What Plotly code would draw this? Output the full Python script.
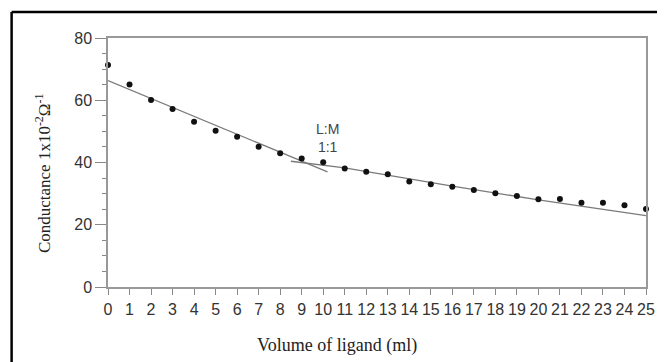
import plotly.graph_objects as go

volume = list(range(0, 26))
conductance = [71.3, 65.1, 60.1, 57.2, 53.1, 50.2, 48.3, 45.1, 43.0, 41.3, 40.1,
               38.1, 37.0, 36.2, 33.9, 33.0, 32.2, 31.2, 30.1, 29.2, 28.2, 28.3,
               27.1, 27.1, 26.3, 25.1]

fit1_x = [0, 10.2]
fit1_y = [66.3, 37.0]
fit2_x = [8.5, 11, 16, 20, 25]
fit2_y = [40.4, 38.3, 32.4, 28.0, 22.9]

x_ticks = list(range(0, 26))
y_ticks = [0, 20, 40, 60, 80]

OFF = 8  # page body margin
W, H = 665 - OFF, 362 - OFF
# screen positions of plot area: left 108, right 655, top 38, bottom 287
L = 108 - OFF
T = 38 - OFF
R = W - (655 - OFF)
B = H - (287 - OFF)
pw, ph = W - L - R, H - T - B

def px(xs):
    return (xs - OFF - L) / pw

def py(ys):
    return (H - B - (ys - OFF)) / ph

fig = go.Figure()
fig.add_trace(go.Scatter(x=fit1_x, y=fit1_y, mode="lines",
                         line=dict(color="#7a7a7a", width=1.3), cliponaxis=False))
fig.add_trace(go.Scatter(x=fit2_x, y=fit2_y, mode="lines",
                         line=dict(color="#7a7a7a", width=1.3), cliponaxis=False))
fig.add_trace(go.Scatter(x=volume, y=conductance, mode="markers",
                         marker=dict(color="#111111", size=6), cliponaxis=False))

axis_font = dict(family="Liberation Sans, Arial", size=16, color="#333333")

fig.update_layout(
    width=W, height=H,
    margin=dict(l=L, r=R, t=T, b=B),
    paper_bgcolor="white", plot_bgcolor="white",
    showlegend=False,
    xaxis=dict(range=[0, 25], tickvals=x_ticks, ticktext=[str(v) for v in x_ticks],
               ticks="outside", ticklen=6, tickcolor="#888888", tickwidth=1.2,
               showline=True, linecolor="#999999", linewidth=1.5, mirror=True,
               showgrid=False, zeroline=False, tickfont=axis_font, ticklabelstandoff=1,
               tickangle=0),
    yaxis=dict(range=[0, 80], tickvals=y_ticks,
               ticks="outside", ticklen=11, tickcolor="#888888", tickwidth=1.2,
               minor=dict(dtick=5, ticks="outside", ticklen=4, tickcolor="#888888", tickwidth=1),
               showline=True, linecolor="#999999", linewidth=1.5, mirror=True,
               showgrid=False, zeroline=False, tickfont=axis_font, ticklabelstandoff=0),
    annotations=[
        dict(x=10.19, y=47.9, xref="x", yref="y", text="L:M<br>1:1", showarrow=False,
             font=dict(family="Liberation Sans, Arial", size=14, color="#444444"),
             align="center", xanchor="center", yanchor="middle"),
        dict(x=px(341), y=py(345), xref="paper", yref="paper",
             text="Volume of ligand (ml)", showarrow=False,
             xanchor="center", yanchor="middle",
             font=dict(family="Liberation Serif, Times New Roman", size=18, color="#222222")),
        dict(x=px(42), y=py(173), xref="paper", yref="paper",
             text="Conductance 1x10<sup>-2</sup>Ω<sup>-1</sup>", showarrow=False, textangle=-90,
             xanchor="center", yanchor="middle",
             font=dict(family="Liberation Serif, Times New Roman", size=17, color="#222222")),
    ],
    shapes=[
        dict(type="line", xref="paper", yref="paper", x0=px(10), x1=px(10),
             y0=py(380), y1=py(12), line=dict(color="black", width=2.5)),
        dict(type="line", xref="paper", yref="paper", x0=px(10), x1=px(680),
             y0=py(12), y1=py(12), line=dict(color="black", width=2.5)),
    ],
)

fig.write_html("out.html")
